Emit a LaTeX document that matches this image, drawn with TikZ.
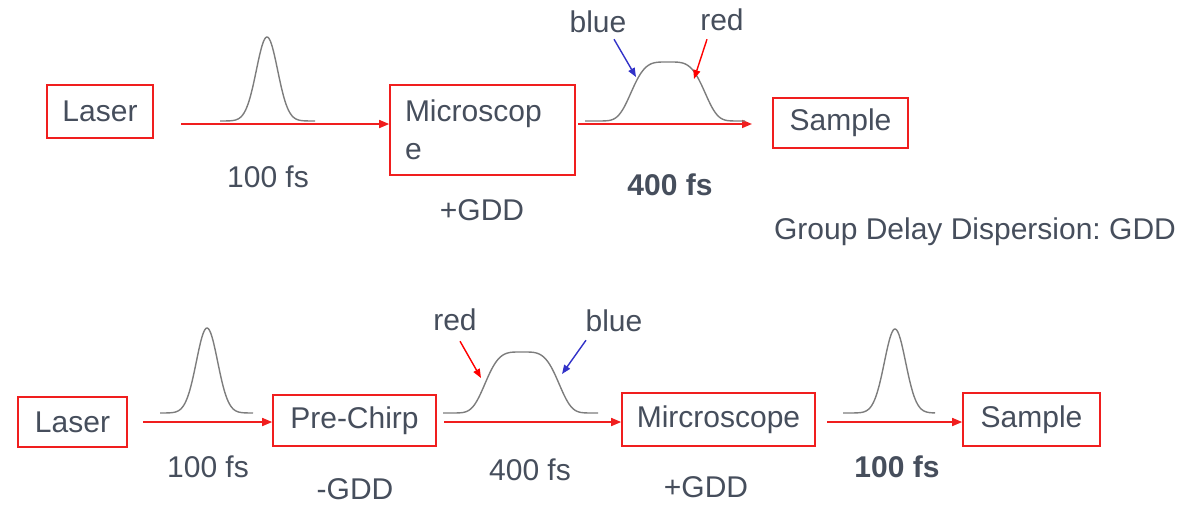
\documentclass[tikz,border=0pt]{standalone}
\usepackage{fontspec}
\setmainfont{Liberation Sans}
\usetikzlibrary{arrows.meta}
\definecolor{txt}{RGB}{70,78,92}
\definecolor{bxred}{RGB}{240,30,30}
\definecolor{pblue}{RGB}{50,50,200}
\definecolor{pgray}{RGB}{125,125,125}
\frenchspacing
\begin{document}
\begin{tikzpicture}[x=1pt,y=-1pt,
  every node/.style={text=txt,font=\fontsize{30}{36}\selectfont,inner sep=0pt},
  box/.style={draw=bxred,line width=1.6pt},
  beam/.style={draw=bxred,line width=1.6pt,-{Triangle[length=10pt,width=8pt]}},
  pulse/.style={draw=pgray,line width=1.4pt,smooth},
  blueptr/.style={draw=pblue,line width=1.4pt,-{Triangle[length=9pt,width=7pt]}},
  redptr/.style={draw=red,line width=1.4pt,-{Triangle[length=9pt,width=7pt]}},
  bold/.style={font=\fontsize{30}{36}\selectfont\bfseries}]
\useasboundingbox (0,0) rectangle (1194,506);
% ---------- top row ----------
\node[box,minimum width=106pt,minimum height=53pt] (laserA) at (100,111.5) {Laser};
\node[box,minimum width=185pt,minimum height=90pt,text width=155pt,align=left] (microA) at (482.5,130) {Microscop\\[2pt]e};
\node[box,minimum width=135pt,minimum height=50pt] (sampleA) at (840.5,123) {Sample};
\coordinate (bA1) at (181,124);
\coordinate (bA2) at (578,124);
\draw[beam] (bA1) -- (bA1 -| microA.west);
\draw[beam] (bA2) -- (752,124) coordinate (bA2e);
\draw[pulse] plot[domain=220:315,samples=80] (\x,{121-84*exp(-((\x-267)/15)^2)});
\draw[pulse] plot[domain=585:745,samples=120] (\x,{121-59*exp(-((\x-668)/40)^4)});
\node (tA1) at (268,177) {100 fs};
\node (tA2) at (482,210) {+GDD};
\node[bold] (tA3) at (670,185) {400 fs};
\node (blueA) at (598,22) {blue};
\node (redA) at (722,20) {red};
\coordinate (pbA) at (636,77);
\coordinate (prA) at (694,79);
\draw[blueptr] (blueA.south) ++(16,6) -- (pbA);
\draw[redptr] (redA.south) ++(-15,8) -- (prA);
\node (gdd) at (975,232) {Group Delay Dispersion: GDD};
% ---------- bottom row ----------
\node[box,minimum width=109pt,minimum height=50pt] (laserB) at (72.5,422) {Laser};
\node[box,minimum width=163pt,minimum height=51pt] (preB) at (354.5,420.5) {Pre-Chirp};
\node[box,minimum width=193pt,minimum height=53pt] (microB) at (718.5,419.5) {Mircroscope};
\node[box,minimum width=137pt,minimum height=53pt] (sampleB) at (1031.5,419.5) {Sample};
\coordinate (bB1) at (143,422);
\coordinate (bB2) at (444,422);
\coordinate (bB3) at (827,422);
\draw[beam] (bB1) -- (bB1 -| preB.west);
\draw[beam] (bB2) -- (bB2 -| microB.west);
\draw[beam] (bB3) -- (bB3 -| sampleB.west);
\draw[pulse] plot[domain=160:253,samples=80] (\x,{413-85*exp(-((\x-207)/15)^2)});
\draw[pulse] plot[domain=443:598,samples=120] (\x,{413-61*exp(-((\x-522)/40)^4)});
\draw[pulse] plot[domain=843:935,samples=80] (\x,{413-84*exp(-((\x-895)/15)^2)});
\node (tB1) at (208,467) {100 fs};
\node (tB2) at (355,489) {-GDD};
\node (tB3) at (530,470) {400 fs};
\node (tB4) at (706,487) {+GDD};
\node[bold] (tB5) at (897,467) {100 fs};
\node (redB) at (455,320) {red};
\node (blueB) at (614,321) {blue};
\coordinate (prB) at (481,378);
\coordinate (pbB) at (562,374);
\draw[redptr] (redB.south) ++(5,10) -- (prB);
\draw[blueptr] (blueB.south) ++(-28,8) -- (pbB);
\end{tikzpicture}
\end{document}
